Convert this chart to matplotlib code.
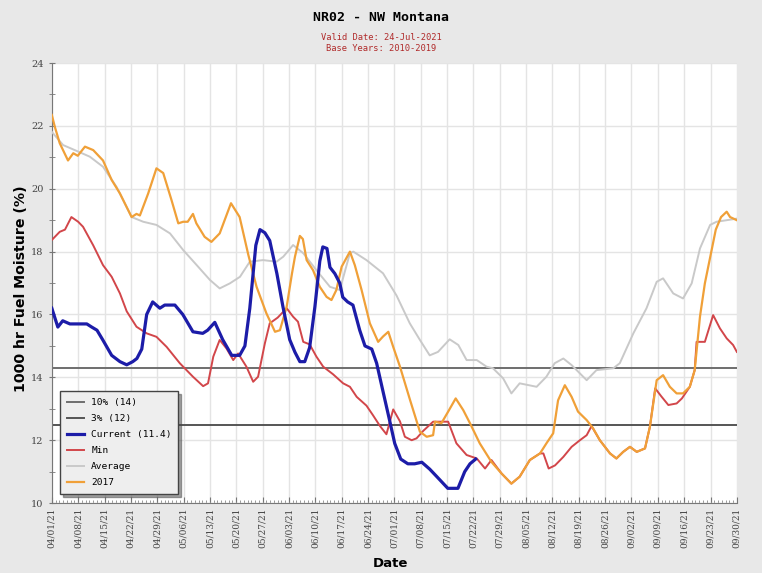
import matplotlib
matplotlib.use("Agg")
import matplotlib.pyplot as plt
import matplotlib.dates as mdates
import pandas as pd

start = pd.Timestamp("2021-04-01")
end = pd.Timestamp("2021-09-30")

# days since Apr 1 and fuel moisture (%) for each series
cur_days = [0, 1.6, 2.9, 4.8, 9.3, 10.6, 12, 13.5, 15.9, 18.1, 19.9, 21.5, 22.6, 23.9,
            25.2, 26.8, 28.7, 30, 32.7, 34.8, 37.5, 40.1, 41.4, 43.3, 45.4, 47.8, 49.9,
            51.3, 52.6, 53.4, 54.2, 55.3, 56.6, 57.9, 59.8, 61.4, 63.2, 64.6, 65.9, 67.2,
            68.5, 69.9, 71.2, 72, 73.1, 73.9, 75.2, 76.5, 77.3, 78.6, 80, 81.8, 83.2, 85,
            86.3, 87.9, 89.8, 91.1, 92.7, 94.6, 96.4, 98.3, 100.4, 102.3, 105.2, 107.9,
            109.7, 111.1, 112.6]
cur_vals = [16.2, 15.6, 15.8, 15.7, 15.7, 15.6, 15.5, 15.2, 14.7, 14.5, 14.4, 14.5, 14.6, 14.9,
            16.0, 16.4, 16.2, 16.3, 16.3, 16.0, 15.45, 15.4, 15.5, 15.75, 15.2, 14.7, 14.7,
            15.0, 16.2, 17.2, 18.2, 18.7, 18.6, 18.35, 17.3, 16.25, 15.2, 14.8, 14.5, 14.5,
            14.95, 16.25, 17.7, 18.15, 18.1, 17.5, 17.3, 17.0, 16.55, 16.4, 16.3, 15.5, 15.0, 14.9,
            14.45, 13.6, 12.6, 11.9, 11.4, 11.25, 11.25, 11.3, 11.08, 10.84, 10.47, 10.47,
            11.0, 11.25, 11.4]

min_days = [0, 2.1, 3.5, 5.2, 7.0, 8.3, 11.0, 13.6, 15.9, 18.1, 19.9, 22.5, 25.2, 27.8,
            30.5, 34.0, 37.5, 40.2, 41.5, 42.9, 44.6, 46.4, 48.2, 49.5, 51.7, 53.5, 54.8,
            56.6, 57.9, 60.0, 62.4, 64.1, 65.4, 66.8, 68.5, 70.3, 72.1, 74.7, 77.4, 79.2,
            81.0, 83.6, 85.3, 87.2, 88.9, 90.7, 92.5, 93.8, 95.6, 96.9, 98.7, 101.3, 105.3,
            107.5, 110.2, 112.9, 115.1, 116.8, 119.5, 122.1, 124.3, 127.0, 129.7, 130.6,
            132.0, 133.7, 135.9, 138.1, 140.3, 142.1, 143.4, 145.6, 148.3, 150.0, 151.8,
            153.6, 155.4, 157.6, 158.9, 160.3, 161.9, 163.8, 166.0, 167.4, 169.5, 170.8,
            171.3, 173.5, 175.7, 177.5, 179.3, 181.0, 182.0]
min_vals = [18.37, 18.63, 18.7, 19.1, 18.95, 18.79, 18.2, 17.57, 17.2, 16.67, 16.1, 15.61, 15.4, 15.29,
            14.97, 14.45, 14.02, 13.72, 13.81, 14.66, 15.19, 14.92, 14.55, 14.76, 14.34, 13.86, 14.02,
            15.08, 15.72, 15.9, 16.2, 15.93, 15.77, 15.13, 15.05, 14.66, 14.34, 14.1, 13.81, 13.7,
            13.38, 13.1, 12.8, 12.45, 12.19, 12.98, 12.6, 12.11, 12.0, 12.06, 12.3, 12.59, 12.59,
            11.9, 11.53, 11.42, 11.1, 11.37, 10.94, 10.62, 10.84, 11.37, 11.58, 11.58,
            11.1, 11.2, 11.47, 11.79, 12.0, 12.16, 12.45, 12.0, 11.58, 11.42, 11.63,
            11.79, 11.63, 11.74, 12.43, 13.65, 13.4, 13.12, 13.17, 13.33, 13.7, 14.23,
            15.13, 15.13, 15.98, 15.56, 15.24, 15.03, 14.81]

avg_days = [0, 3.0, 6.1, 10.1, 13.6, 17.2, 21.2, 24.3, 27.8, 31.4, 34.9, 38.5, 42.0, 44.6,
            47.3, 50.0, 52.6, 56.1, 59.7, 61.5, 64.1, 66.8, 70.3, 73.9, 76.5, 79.2, 80.1,
            83.6, 88.0, 91.6, 95.1, 97.8, 100.4, 102.6, 105.7, 108.0, 110.2, 112.9, 115.5,
            117.2, 119.9, 122.1, 124.3, 128.8, 131.4, 133.6, 135.9, 138.1, 142.1, 144.7,
            149.2, 150.9, 154.5, 158.0, 160.7, 162.4, 165.1, 167.7, 170.0, 172.2, 174.9,
            176.6, 179.3, 182.0]
avg_vals = [21.81, 21.39, 21.23, 21.02, 20.7, 20.06, 19.1, 18.95, 18.85, 18.58, 18.05, 17.57, 17.1, 16.83,
            16.99, 17.2, 17.68, 17.73, 17.68, 17.84, 18.21, 17.95, 17.41, 16.88, 16.78, 17.95, 18.0,
            17.73, 17.31, 16.6, 15.72, 15.19, 14.7, 14.81, 15.21, 15.03, 14.55, 14.55, 14.34,
            14.29, 13.97, 13.49, 13.81, 13.7, 14.02, 14.45, 14.6, 14.39, 13.91, 14.23,
            14.29, 14.45, 15.4, 16.2, 17.04, 17.15, 16.67, 16.51, 16.99, 18.1, 18.85,
            18.95, 19.0, 19.05]

y2017_days = [0, 0.8, 2.1, 4.3, 5.7, 6.9, 8.8, 11.0, 13.6, 15.9, 18.1, 21.2, 22.5, 23.4,
              25.6, 27.8, 29.6, 31.8, 33.6, 34.9, 36.1, 37.5, 38.4, 40.6, 42.4, 44.6, 47.6,
              49.9, 52.2, 54.4, 57.0, 59.3, 60.6, 62.4, 63.8, 64.6, 65.9, 66.7, 67.7, 69.4,
              71.2, 73.0, 74.3, 75.6, 77.0, 79.2, 80.5, 82.3, 84.5, 86.7, 88.0, 89.4, 90.7,
              92.5, 95.2, 97.8, 99.6, 101.3, 101.8, 103.5, 105.3, 107.3, 109.3, 111.1, 113.7,
              116.8, 119.5, 122.1, 124.3, 127.0, 129.7, 131.4, 133.2, 134.5, 136.3, 138.1,
              139.8, 142.1, 143.8, 145.6, 148.3, 150.0, 151.8, 153.6, 155.4, 157.6, 158.9,
              160.7, 162.4, 164.2, 166.0, 167.7, 169.5, 170.8, 172.2, 173.5, 175.3, 176.4,
              177.8, 179.3, 180.2, 182.0]
y2017_vals = [22.35, 21.97, 21.45, 20.9, 21.13, 21.05, 21.34, 21.23, 20.9, 20.28, 19.85, 19.1, 19.2, 19.15,
              19.85, 20.65, 20.5, 19.64, 18.9, 18.95, 18.95, 19.2, 18.9, 18.47, 18.31, 18.58, 19.54,
              19.1, 17.9, 16.88, 16.04, 15.45, 15.5, 16.25, 17.3, 17.84, 18.5, 18.4, 17.73, 17.41,
              16.88, 16.56, 16.46, 16.78, 17.52, 18.0, 17.57, 16.78, 15.72, 15.13, 15.3, 15.45, 14.97,
              14.34, 13.27, 12.27, 12.11, 12.16, 12.59, 12.54, 12.91, 13.33, 12.96, 12.54, 11.9,
              11.31, 10.94, 10.62, 10.84, 11.37, 11.58, 11.9, 12.22, 13.27, 13.75, 13.38,
              12.91, 12.64, 12.38, 12.0, 11.58, 11.42, 11.63, 11.79, 11.63, 11.74, 12.43,
              13.91, 14.07, 13.7, 13.49, 13.49, 13.7, 14.23, 15.93, 16.99, 18.05, 18.7,
              19.1, 19.27, 19.1, 19.0]

pct10 = 14.3
pct03 = 12.5


def to_dates(days):
    return start + pd.to_timedelta(days, unit="D")


mono = "DejaVu Sans Mono"

fig = plt.figure(figsize=(7.62, 5.73), dpi=100, facecolor="#e8e8e8")
ax = fig.add_axes([0.068, 0.122, 0.899, 0.768])
ax.set_facecolor("white")

ax.axhline(pct10, color="#6e6e6e", lw=1.4, zorder=2, label=f"10% ({pct10:.0f})")
ax.axhline(pct03, color="#555555", lw=1.4, zorder=2, label=f"3% ({pct03:.0f})")
ax.plot(to_dates(cur_days), cur_vals, color="#1c1ca8", lw=2.3, zorder=6,
        label=f"Current ({cur_vals[-1]:.1f})")
ax.plot(to_dates(min_days), min_vals, color="#d2464a", lw=1.4, zorder=4, label="Min")
ax.plot(to_dates(avg_days), avg_vals, color="#c9c9c9", lw=1.4, zorder=3, label="Average")
ax.plot(to_dates(y2017_days), y2017_vals, color="#f0a038", lw=1.6, zorder=5, label="2017")

ax.set_xlim(start, end)
ax.set_ylim(10, 24)
ax.set_yticks(range(10, 25, 2))
ax.set_yticks(range(11, 24, 2), minor=True)
ax.set_xticks(pd.date_range(start, end, freq="7D"))
ax.xaxis.set_major_formatter(mdates.DateFormatter("%m/%d/%y"))
ax.xaxis.set_minor_locator(mdates.DayLocator())
ax.grid(True, which="major", color="#e4e4e4", lw=1.0, zorder=0)

for side in ("top", "right"):
    ax.spines[side].set_visible(False)
for side in ("left", "bottom"):
    ax.spines[side].set_color("#777777")

ax.tick_params(axis="x", which="major", labelrotation=90, labelsize=6.5,
               labelcolor="#444444", direction="in", length=4, color="#777777")
ax.tick_params(axis="x", which="minor", direction="in", length=2, color="#888888")
ax.tick_params(axis="y", which="both", direction="inout", length=5, color="#777777",
               labelsize=7, labelcolor="#444444")
for lbl in ax.get_xticklabels() + ax.get_yticklabels():
    lbl.set_family("DejaVu Serif")

fig.text(0.027, 0.497, "1000 hr Fuel Moisture (%)", rotation=90, ha="center", va="center",
         fontsize=10.2, fontweight="bold")
fig.text(0.513, 0.016, "Date", ha="center", va="center", fontsize=9.5, fontweight="bold")

fig.text(0.5, 0.970, "NR02 - NW Montana", ha="center", va="center",
         fontsize=9.5, fontweight="bold", family=mono)
fig.text(0.5, 0.935, "Valid Date: 24-Jul-2021", ha="center", va="center",
         fontsize=6.3, color="#b02a2a", family=mono)
fig.text(0.5, 0.915, "Base Years: 2010-2019", ha="center", va="center",
         fontsize=6.3, color="#b02a2a", family=mono)

leg = ax.legend(loc="lower left", bbox_to_anchor=(0.005, 0.01), prop={"family": mono, "size": 6.8},
                frameon=True, fancybox=False, shadow=True, framealpha=1,
                facecolor="#eeeeee", edgecolor="#444444", handlelength=1.8,
                labelspacing=0.75, borderpad=0.7)
leg.get_frame().set_linewidth(1.0)
leg.set_zorder(10)

fig.savefig("out.png", dpi=100, facecolor=fig.get_facecolor())
